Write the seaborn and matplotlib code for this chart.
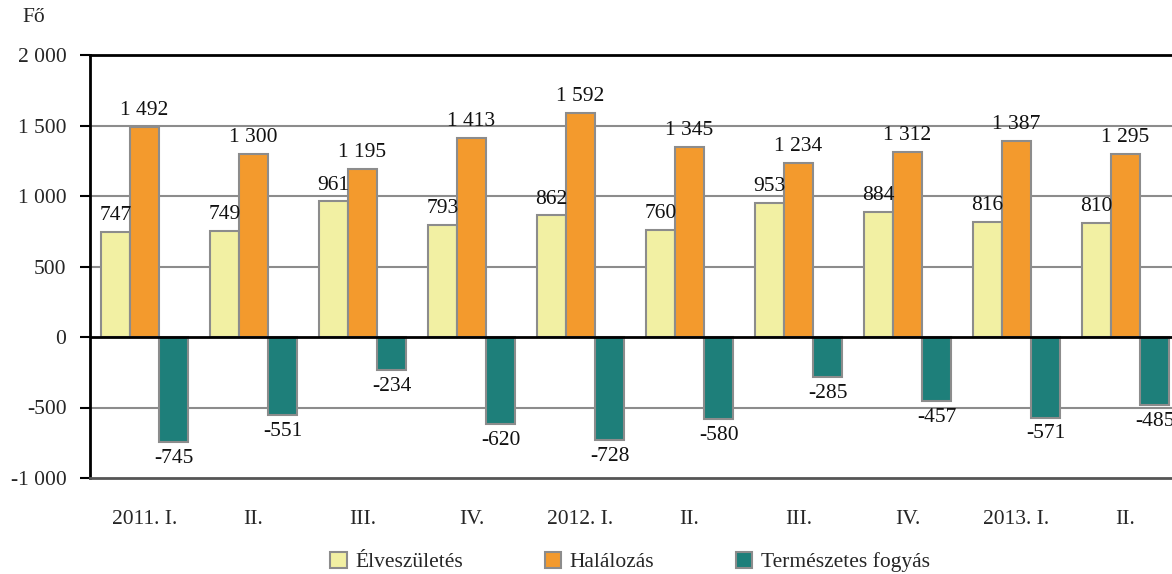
import matplotlib
matplotlib.use("Agg")
import matplotlib.pyplot as plt
import seaborn as sns
import pandas as pd
from matplotlib.patches import Patch

# Data
periods = ["2011. I.", "II.", "III.", "IV.", "2012. I.", "II.", "III.", "IV.", "2013. I.", "II."]
births = [747, 749, 961, 793, 862, 760, 953, 884, 816, 810]
deaths = [1492, 1300, 1195, 1413, 1592, 1345, 1234, 1312, 1387, 1295]
decrease = [-745, -551, -234, -620, -728, -580, -285, -457, -571, -485]
series = ["Élveszületés", "Halálozás", "Természetes fogyás"]
colors = ["#F2F0A3", "#F39A2D", "#1E7F7A"]

df = pd.DataFrame({
    "period": periods * 3,
    "idx": list(range(len(periods))) * 3,
    "series": [series[0]] * 10 + [series[1]] * 10 + [series[2]] * 10,
    "value": births + deaths + decrease,
})

sns.set_style("white")
plt.rcParams["font.family"] = ["Liberation Serif", "DejaVu Serif"]
FS = 15.5

fig = plt.figure(figsize=(11.72, 5.74), dpi=100)
ax = fig.add_axes([90 / 1172, 1 - 478 / 574, 1 - 90 / 1172, (478 - 55) / 574])

sns.barplot(data=df, x="idx", y="value", hue="series", palette=colors,
            saturation=1, width=0.8, edgecolor="#8C8C8C", linewidth=1.5,
            ax=ax, legend=False, zorder=3)

def fmt(v):
    return f"{int(v):,}".replace(",", " ")

for cont, vals in zip(ax.containers, [births, deaths, decrease]):
    ax.bar_label(cont, labels=[fmt(v) for v in vals], padding=5,
                 fontsize=FS, color="#111111")

ax.set_ylim(-1000, 2000)
yt = [-1000, -500, 0, 500, 1000, 1500, 2000]
ax.set_yticks(yt)
ax.set_yticklabels([fmt(v) for v in yt], fontsize=FS)
ax.set_xlim(-0.5, -0.5 + 1082 / 109)
ax.set_xticks(range(len(periods)))
ax.set_xticklabels(periods, fontsize=FS)
ax.tick_params(axis="x", length=0, pad=23)
ax.tick_params(axis="y", length=7, width=1.5, color="black", direction="out", pad=10, left=True)
ax.set_xlabel("")
ax.set_ylabel("")

for y in [-500, 500, 1000, 1500]:
    ax.axhline(y, color="#8C8C8C", linewidth=1.5, zorder=1)
ax.axhline(0, color="black", linewidth=2, zorder=4)

ax.spines["left"].set_color("black")
ax.spines["left"].set_linewidth(2)
ax.spines["top"].set_color("black")
ax.spines["top"].set_linewidth(2)
ax.spines["bottom"].set_color("#555555")
ax.spines["bottom"].set_linewidth(2)
ax.spines["right"].set_visible(False)

fig.text(22 / 1172, 1 - 18 / 574, "Fő", fontsize=FS, va="center", ha="left")

handles = [Patch(facecolor=c, edgecolor="#8C8C8C", linewidth=1.5) for c in colors]
fig.legend(handles, series, loc="center", ncol=3, frameon=False,
           bbox_to_anchor=(630 / 1172, 1 - 562 / 574), fontsize=FS,
           handlelength=0.75, handleheight=0.75, handletextpad=0.4,
           columnspacing=3.8)

fig.savefig("out.png", dpi=100)
